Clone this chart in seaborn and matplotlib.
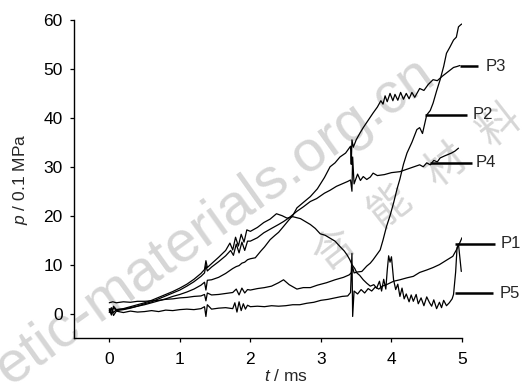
import numpy as np
import pandas as pd
import matplotlib
matplotlib.use("Agg")
import matplotlib.pyplot as plt
import seaborn as sns

# ---------------- data ----------------
t1 = [0.00, 0.03, 0.06, 0.10, 0.20, 0.30, 0.40, 0.50, 0.60, 0.70, 0.80, 0.90, 1.00, 1.10, 1.20, 1.30,
      1.35, 1.37, 1.39, 1.45, 1.55, 1.65, 1.75, 1.78, 1.81, 1.84, 1.87, 1.90, 1.93, 1.96, 2.00, 2.10,
      2.20, 2.30, 2.40, 2.50, 2.60, 2.70, 2.80, 2.90, 3.00, 3.10, 3.20, 3.30, 3.38, 3.42, 3.44, 3.45,
      3.47, 3.52, 3.57, 3.62, 3.67, 3.72, 3.77, 3.82, 3.87, 3.93, 4.03, 4.12, 4.22, 4.31, 4.40, 4.50,
      4.59, 4.68, 4.78, 4.87, 4.92, 4.97, 5.00]
p1 = [0.2, 1.0, -0.4, 0.5, 0.2, 0.5, 0.3, 0.4, 0.6, 0.4, 0.7, 0.6, 0.8, 0.9, 0.8, 1.0,
      1.4, -0.6, 1.8, 0.9, 1.1, 1.2, 1.0, 2.2, 0.3, 2.4, 0.6, 2.0, 0.9, 1.7, 1.4, 1.5,
      1.4, 1.6, 1.5, 1.6, 1.8, 1.8, 2.1, 2.3, 2.7, 2.9, 3.2, 3.5, 3.6, 4.3, 12.3, -0.6,
      4.6, 4.0, 4.9, 4.2, 5.1, 4.6, 5.4, 5.0, 5.6, 5.9, 6.6, 6.9, 7.3, 7.6, 8.4, 8.9,
      9.4, 10.0, 10.9, 11.7, 13.0, 14.5, 15.5]

t2 = [0.00, 0.05, 0.10, 0.20, 0.30, 0.40, 0.50, 0.60, 0.70, 0.80, 0.90, 1.00, 1.10, 1.20, 1.30,
      1.35, 1.37, 1.39, 1.45, 1.55, 1.65, 1.75, 1.80, 1.84, 1.88, 1.92, 1.96, 2.00, 2.10, 2.20,
      2.30, 2.40, 2.47, 2.55, 2.66, 2.75, 2.85, 2.95, 3.08, 3.20, 3.32, 3.40, 3.43, 3.45, 3.47,
      3.52, 3.58, 3.65, 3.70, 3.74, 3.79, 3.84, 3.88, 3.93, 3.98, 4.03, 4.08, 4.12, 4.17, 4.22,
      4.29, 4.36, 4.40, 4.44, 4.50, 4.55, 4.59, 4.64, 4.69, 4.74, 4.78, 4.83, 4.88, 4.92, 4.95,
      4.98, 5.00]
p2 = [2.2, 2.4, 2.2, 2.4, 2.3, 2.5, 2.5, 2.6, 2.7, 2.9, 3.0, 3.2, 3.3, 3.5, 3.6,
      3.9, 2.6, 4.2, 3.8, 3.9, 4.1, 4.3, 5.0, 3.8, 5.2, 4.2, 4.9, 4.8, 5.1, 5.3,
      5.6, 6.3, 6.9, 5.9, 5.0, 5.3, 5.3, 5.8, 6.3, 6.9, 7.4, 7.9, 8.3, 9.5, 8.3,
      8.5, 8.6, 9.7, 10.3, 11.0, 12.0, 13.0, 15.0, 17.8, 20.0, 22.6, 25.5, 27.5, 30.5, 32.8,
      35.0, 37.6, 38.0, 36.8, 40.6, 41.5, 43.0, 45.5, 47.8, 50.5, 53.2, 54.5, 55.9, 56.5, 58.6,
      59.0, 59.2]

t3 = [0.00, 0.03, 0.06, 0.10, 0.20, 0.30, 0.40, 0.50, 0.60, 0.70, 0.80, 0.90, 1.00, 1.10, 1.20,
      1.30, 1.35, 1.37, 1.39, 1.45, 1.55, 1.65, 1.75, 1.80, 1.84, 1.88, 1.92, 1.96, 2.00, 2.07,
      2.15, 2.20, 2.28, 2.35, 2.40, 2.47, 2.55, 2.60, 2.66, 2.75, 2.85, 2.95, 3.05, 3.13, 3.20,
      3.27, 3.35, 3.42, 3.43, 3.44, 3.46, 3.50, 3.55, 3.60, 3.67, 3.74, 3.80, 3.85, 3.88, 3.91,
      3.94, 3.98, 4.02, 4.05, 4.09, 4.13, 4.17, 4.21, 4.25, 4.29, 4.33, 4.40, 4.46, 4.52, 4.59,
      4.65, 4.72, 4.80, 4.88, 4.93, 4.97]
p3 = [0.5, 1.2, 0.2, 0.8, 0.9, 1.2, 1.5, 1.8, 2.2, 2.6, 3.0, 3.5, 3.9, 4.4, 5.0,
      5.8, 6.4, 4.8, 6.8, 6.9, 7.4, 8.2, 9.2, 9.6, 9.8, 10.3, 10.5, 11.0, 11.2, 11.4,
      12.8, 13.6, 15.1, 16.0, 16.6, 17.8, 19.2, 20.0, 21.6, 22.7, 23.9, 25.5, 27.8, 30.0, 30.8,
      32.0, 32.8, 34.2, 30.5, 35.5, 34.0, 35.5, 36.8, 38.0, 39.5, 41.0, 42.2, 43.5, 42.8, 44.5,
      43.3, 45.0, 43.5, 44.8, 43.6, 45.2, 43.8, 45.0, 43.9, 45.2, 44.2, 46.0, 45.6, 46.8, 47.8,
      47.6, 48.5, 49.4, 50.3, 50.5, 50.7]

t4 = [0.00, 0.03, 0.06, 0.10, 0.20, 0.30, 0.40, 0.50, 0.60, 0.70, 0.80, 0.90, 1.00, 1.10, 1.20,
      1.30, 1.35, 1.37, 1.39, 1.45, 1.55, 1.65, 1.72, 1.76, 1.80, 1.84, 1.88, 1.92, 1.96, 2.00,
      2.10, 2.19, 2.30, 2.40, 2.47, 2.55, 2.66, 2.75, 2.85, 2.94, 3.05, 3.13, 3.22, 3.30, 3.38,
      3.42, 3.44, 3.45, 3.47, 3.52, 3.56, 3.60, 3.65, 3.70, 3.74, 3.80, 3.90, 4.00, 4.12, 4.20,
      4.30, 4.40, 4.45, 4.50, 4.55, 4.60, 4.65, 4.69, 4.75, 4.80, 4.85, 4.90, 4.95]
p4 = [0.7, 0.0, 1.2, 0.6, 0.8, 1.1, 1.5, 2.0, 2.4, 3.0, 3.6, 4.2, 4.8, 5.6, 6.5,
      7.6, 8.3, 9.8, 8.7, 9.5, 10.6, 11.8, 12.9, 11.9, 14.2, 12.4, 14.6, 12.9, 14.8, 14.8,
      15.5, 16.5, 17.4, 18.2, 18.8, 19.6, 20.9, 21.8, 22.9, 23.5, 24.6, 25.2, 26.0, 26.5, 27.0,
      27.3, 25.0, 32.0, 26.5, 28.5, 27.2, 28.0, 27.4, 27.9, 28.7, 28.2, 28.4, 28.8, 29.0, 29.4,
      29.9, 30.4, 30.0, 30.8, 30.4, 31.3, 31.0, 31.8, 32.2, 32.5, 32.8, 33.2, 33.8]

t5 = [0.00, 0.03, 0.06, 0.10, 0.20, 0.30, 0.40, 0.50, 0.60, 0.70, 0.80, 0.90, 1.00, 1.10, 1.20,
      1.30, 1.35, 1.37, 1.39, 1.45, 1.55, 1.65, 1.71, 1.75, 1.79, 1.83, 1.87, 1.91, 1.95, 2.00,
      2.10, 2.19, 2.28, 2.37, 2.45, 2.52, 2.60, 2.71, 2.78, 2.85, 2.92, 2.99, 3.06, 3.13, 3.20,
      3.27, 3.33, 3.37, 3.41, 3.44, 3.48, 3.51, 3.55, 3.60, 3.65, 3.70, 3.75, 3.79, 3.83, 3.86,
      3.89, 3.92, 3.94, 3.96, 3.98, 4.00, 4.03, 4.06, 4.09, 4.12, 4.15, 4.18, 4.21, 4.25, 4.28,
      4.31, 4.35, 4.38, 4.42, 4.46, 4.50, 4.54, 4.57, 4.60, 4.64, 4.68, 4.71, 4.74, 4.78, 4.82,
      4.86, 4.88, 4.91, 4.93, 4.95, 4.99]
p5 = [1.0, -0.3, 1.5, 0.8, 1.0, 1.4, 1.8, 2.2, 2.7, 3.3, 3.9, 4.5, 5.2, 6.0, 7.0,
      8.2, 9.0, 10.8, 9.4, 10.2, 11.5, 12.9, 14.4, 13.0, 15.6, 13.8, 16.2, 14.6, 17.1, 16.8,
      17.6, 18.6, 19.3, 20.4, 20.0, 19.5, 19.8, 19.4, 18.8, 18.2, 17.4, 16.3, 16.0, 15.4, 14.8,
      13.7, 12.8, 12.0, 11.0, 10.0, 9.2, 8.3, 7.8, 6.9, 6.2, 5.6, 5.9, 5.2, 6.6, 4.6,
      7.0, 5.0, 8.8, 11.8, 10.5, 11.6, 6.9, 4.9, 6.0, 3.5, 5.2, 3.0, 4.0, 2.4, 3.8,
      2.5, 3.9, 2.0, 3.2, 1.6, 3.4, 2.2, 1.5, 2.8, 1.0, 2.3, 1.2, 2.7, 1.6, 2.2,
      3.0, 3.9, 8.5, 13.5, 14.2, 8.6]

curve_names = ["P1", "P2", "P3", "P4", "P5"]
series_t = [t1, t2, t3, t4, t5]
series_p = [p1, p2, p3, p4, p5]

# label callouts
label_names = ["P3", "P2", "P4", "P1", "P5"]
label_seg_t0 = [4.97, 4.48, 4.55, 4.90, 4.90]
label_seg_t1 = [5.23, 5.07, 5.14, 5.47, 5.44]
label_level = [50.5, 40.6, 30.8, 14.3, 4.1]
label_text_t = [5.33, 5.15, 5.20, 5.55, 5.53]

x_ticks = [0, 1, 2, 3, 4, 5]
y_ticks = [0, 10, 20, 30, 40, 50, 60]

# ---------------- style ----------------
sns.set_style("ticks")
FONT = ["Liberation Sans", "DejaVu Sans"]
plt.rcParams["font.family"] = FONT
plt.rcParams["mathtext.fontset"] = "custom"
plt.rcParams["mathtext.rm"] = "Liberation Sans"
plt.rcParams["mathtext.it"] = "Liberation Sans:italic"

fig = plt.figure(figsize=(5.23, 3.85), dpi=100)
ax = fig.add_axes([74 / 523, 1 - 338 / 385, (462 - 74) / 523, (338 - 20) / 385])
ax.set_facecolor("none")

# watermark (light gray, behind everything)
wm = dict(color="#d6d6d6", zorder=-5)
fig.text(10 / 523, 1 - 386 / 385, "etic-materials.org.cn", rotation=35.5,
         rotation_mode="anchor", ha="left", va="baseline", fontsize=42,
         family=["Liberation Sans", "DejaVu Sans"], **wm)
for ch, (cx, cy) in zip("含能材料", [(335, 250), (390, 207), (446, 166), (500, 126)]):
    fig.text(cx / 523, 1 - cy / 385, ch, rotation=38, rotation_mode="anchor",
             ha="center", va="center", fontsize=30,
             family=["Noto Sans CJK SC", "DejaVu Sans"], **wm)

rows = []
for name, ts, ps in zip(curve_names, series_t, series_p):
    assert len(ts) == len(ps), name
    rows.append(pd.DataFrame({"t": ts, "p": ps, "curve": name}))
df = pd.concat(rows, ignore_index=True)

for name in curve_names:
    sub = df[df["curve"] == name]
    sns.lineplot(data=sub, x="t", y="p", ax=ax, color="black", linewidth=0.9,
                 sort=False, estimator=None, legend=False)

for nm, a, b, lv, tt in zip(label_names, label_seg_t0, label_seg_t1, label_level, label_text_t):
    ax.plot([a, b], [lv, lv], color="black", linewidth=1.8, clip_on=False,
            solid_capstyle="butt")
    ax.text(tt, lv, nm, ha="left", va="center", fontsize=12, clip_on=False)

ax.set_xlim(-0.5, 5.0)
ax.set_ylim(-5, 60)
ax.set_xticks(x_ticks)
ax.set_yticks(y_ticks)
sns.despine(ax=ax)
for s in ["left", "bottom"]:
    ax.spines[s].set_linewidth(1.0)
    ax.spines[s].set_color("black")
ax.tick_params(axis="both", direction="out", length=3.2, width=0.9, color="black",
               labelsize=12.5, labelcolor="black")
ax.tick_params(axis="y", pad=5)
ax.tick_params(axis="x", pad=7)

ax.set_xlabel(r"$\it{t}$ / ms", fontsize=12.5)
ax.set_ylabel(r"$\it{p}$ / 0.1 MPa", fontsize=12.5)
ax.xaxis.label.set_va("center")
ax.yaxis.label.set_va("center")
ax.xaxis.set_label_coords(0.546, -0.12)
ax.yaxis.set_label_coords(-0.137, 0.5)

fig.savefig("out.png", dpi=100)
